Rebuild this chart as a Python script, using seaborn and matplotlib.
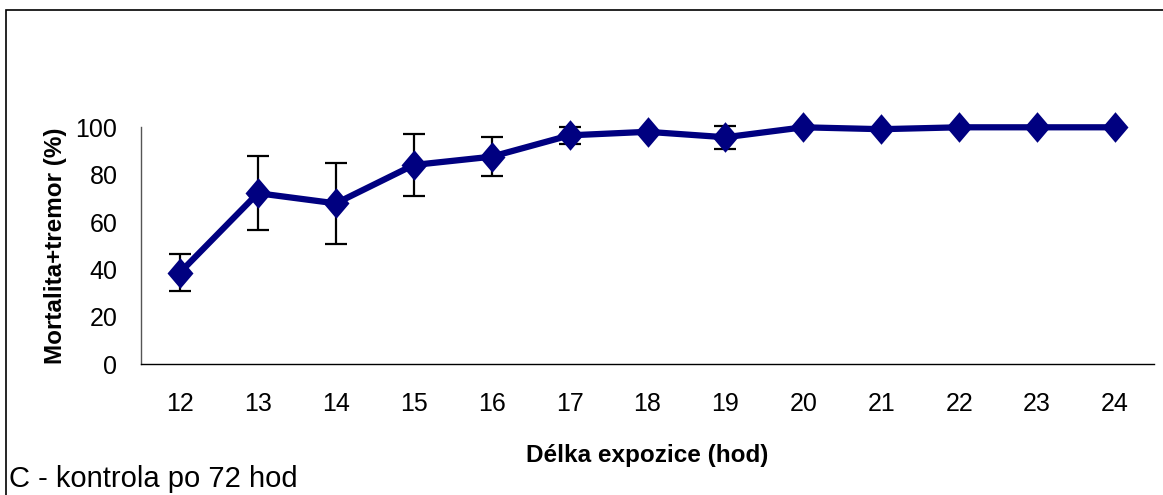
import matplotlib
matplotlib.use("Agg")
import matplotlib.pyplot as plt
import seaborn as sns
import pandas as pd
from matplotlib.patches import Rectangle

# Data
hodiny = [12, 13, 14, 15, 16, 17, 18, 19, 20, 21, 22, 23, 24]
mortalita = [38.7, 72.2, 67.9, 84.1, 87.6, 96.6, 98.1, 95.8, 100, 99.2, 100, 100, 100]
chyba = [7.7, 15.7, 17.0, 13.1, 8.1, 3.7, 0, 4.8, 0, 0, 0, 0, 0]
y_ticks = [0, 20, 40, 60, 80, 100]

df = pd.DataFrame({"pos": range(len(hodiny)), "hod": hodiny,
                   "mort": mortalita, "err": chyba})

sns.set_theme(style="white")
plt.rcParams["font.family"] = ["Liberation Sans", "DejaVu Sans"]
plt.rcParams["text.color"] = "black"
plt.rcParams["axes.labelcolor"] = "black"
plt.rcParams["xtick.color"] = "black"
plt.rcParams["ytick.color"] = "black"

fig = plt.figure(figsize=(11.63, 4.95), dpi=100)
ax = fig.add_axes([141 / 1163, 1 - 364.3 / 495, (1154 - 141) / 1163, (364.3 - 127.3) / 495])

# error bars behind the line
mask = df["err"] > 0
ax.errorbar(df.loc[mask, "pos"], df.loc[mask, "mort"], yerr=df.loc[mask, "err"],
            fmt="none", ecolor="black", elinewidth=1.6, capsize=8, capthick=1.6,
            zorder=2, clip_on=False)

diamant = [(0, 1), (0.85, 0), (0, -1), (-0.85, 0), (0, 1)]
sns.lineplot(data=df, x="pos", y="mort", ax=ax, color="#000080", linewidth=4.5,
             marker=diamant, markersize=22, markeredgewidth=0,
             markerfacecolor="#000080", zorder=3, clip_on=False)

ax.set_xlim(-0.5, len(hodiny) - 0.5)
ax.set_ylim(0, 100)
ax.set_yticks(y_ticks)
ax.set_yticklabels([str(t) for t in y_ticks], fontsize=18)

# category axis: tick marks between categories, labels at centres
ax.set_xticks([i - 0.5 for i in range(len(hodiny) + 1)])
ax.set_xticklabels([])
ax.set_xticks(range(len(hodiny)), minor=True)
ax.set_xticklabels([str(h) for h in hodiny], minor=True, fontsize=18)
ax.tick_params(axis="x", which="major", direction="out", length=7, width=1, color="black")
ax.tick_params(axis="x", which="minor", length=0, pad=20)
ax.tick_params(axis="y", direction="out", length=7, width=1, color="black", pad=10)

for s in ["top", "right"]:
    ax.spines[s].set_visible(False)
ax.spines["left"].set_color("#555555")
ax.spines["bottom"].set_color("black")
ax.spines["left"].set_linewidth(1)
ax.spines["bottom"].set_linewidth(1)

ax.set_xlabel("Délka expozice (hod)", fontsize=17.5, fontweight="bold", labelpad=20)
ax.set_ylabel("Mortalita+tremor (%)", fontsize=17.5, fontweight="bold", labelpad=6)

fig.text(9 / 1163, 1 - 487 / 495, "C - kontrola po 72 hod", fontsize=21,
         ha="left", va="baseline")

# outer frame of the chart area
fig.patches.append(Rectangle((6 / 1163, -0.05), 1.2, 1 - 10 / 495 + 0.05,
                             transform=fig.transFigure, fill=False,
                             edgecolor="black", linewidth=1.2))

fig.savefig("out.png", dpi=100)
